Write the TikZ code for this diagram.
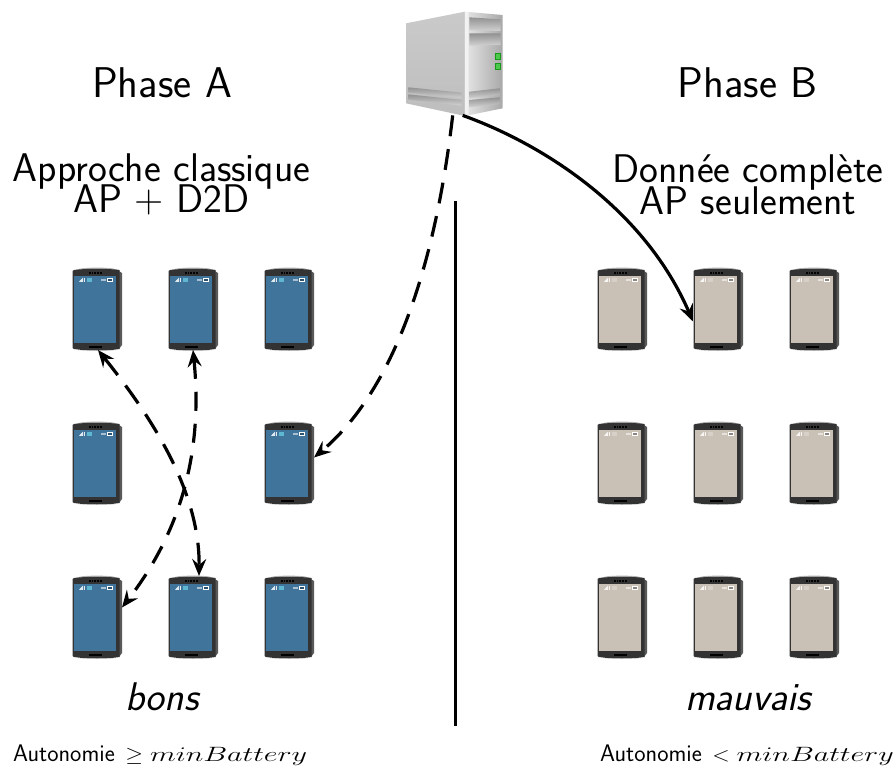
\documentclass[tikz,border=0pt]{standalone}
\usepackage{amsmath}
\usetikzlibrary{arrows.meta}
\renewcommand{\familydefault}{\sfdefault}
\definecolor{screenA}{HTML}{40749B}
\definecolor{screenB}{HTML}{C9C0B6}
\definecolor{iconA}{HTML}{5FB6D0}
\definecolor{iconB}{HTML}{D6D0C8}
\definecolor{shell}{HTML}{333333}
\definecolor{srvL}{HTML}{CACACA}
\definecolor{srvLb}{HTML}{BEBEBE}
\definecolor{srvR}{HTML}{E6E6E6}
\definecolor{srvRb}{HTML}{A8A8A8}
\definecolor{grillD}{HTML}{929292}
\definecolor{grillL}{HTML}{D2D2D2}
\tikzset{
  x=1pt,y=-1pt,
  phonebox/.style={minimum width=50pt,minimum height=83pt,inner sep=0pt,outer sep=0pt},
  link/.style={line width=3.2pt,-{Stealth[length=17pt,width=14pt,inset=6pt]}},
  bothlink/.style={line width=3.2pt,{Stealth[length=17pt,width=14pt,inset=6pt]}-{Stealth[length=17pt,width=14pt,inset=6pt]}},
  dlink/.style={link,dash pattern=on 21pt off 13pt},
  titletext/.style={font=\fontsize{43}{43}\selectfont,inner sep=0pt,anchor=base},
  bigtext/.style={font=\fontsize{40}{31}\selectfont,align=center,inner sep=0pt},
  kindtext/.style={font=\fontsize{40}{40}\selectfont\itshape,inner sep=0pt,anchor=base},
  smalltext/.style={font=\fontsize{24}{26}\selectfont,inner sep=0pt,anchor=base west},
}
\newcommand{\mrel}[1]{{\fontsize{22}{24}\selectfont\hspace{3pt}\scalebox{1.1}[1]{$#1$}\hspace{7pt}\scalebox{1.45}[1]{$minBattery$}}}
\newcommand{\phone}[5]{% name, x, y, screen, icon
  \node[phonebox,anchor=north west] (#1) at (#2,#3) {};
  \begin{scope}[shift={(#2,#3)}]
    \fill[gray!70!black] (47,3) -- (50,5) -- (50,77) -- (47,81) -- cycle;
    \fill[gray!60] (10,0.3) .. controls (20,-0.6) and (30,-0.6) .. (40,0.3) -- (47,2) -- (47,6) -- (3,6) -- (3,2) -- cycle;
    \fill[shell] (2,2) .. controls (15,0.4) and (35,0.4) .. (47.5,2) -- (47.5,81) .. controls (35,83) and (15,83) .. (2,81) -- (0.5,80) -- (0.5,3) -- cycle;
    \fill[gray!55] (6,82) .. controls (18,83.3) and (32,83.3) .. (44,82) .. controls (32,82.6) and (18,82.6) .. (6,82) -- cycle;
    \fill[#4] (2.4,8) rectangle (44,75);
    \fill[black] (17,78.3) rectangle (29.5,80.4);
    \foreach \dx in {17,19.7,22.4,25.1,27.8} \fill[black] (\dx,3.8) rectangle ++(1.7,1.8);
    \fill[white,opacity=.85] (7,13.8) -- (11,13.8) -- (11,9.5) -- cycle;
    \fill[white,opacity=.85] (11.5,13.8) rectangle (13,9.5);
    \fill[#5] (15,9.5) rectangle (19.5,14);
    \fill[white,opacity=.55] (29,11) rectangle (34,12.5);
    \fill[white] (35,10) rectangle (41,13.6);
    \fill[#4!70!black] (36.2,11) rectangle (40,12.6);
  \end{scope}
}
\begin{document}
\begin{tikzpicture}
\useasboundingbox (0,0) rectangle (896,768);
% server
\node[inner sep=0pt,minimum width=97pt,minimum height=105pt,anchor=north west] (server) at (406,11) {};
\begin{scope}[shift={(390,0)},x=0.3333pt,y=-0.3333pt]
  \shade[top color=srvL,bottom color=srvLb] (48,70) -- (225,35) -- (225,348) -- (48,310) -- cycle;
  \shade[left color=srvR,right color=srvRb] (225,35) -- (338,45) -- (338,325) -- (225,348) -- cycle;
  \fill[white,opacity=.55] (225,35) -- (236,36) -- (236,346) -- (225,348) -- cycle;
  \foreach \a/\b/\c/\d in {55/262/215/278, 55/283/215/300} {
    \shade[top color=grillD,bottom color=grillL] (\a,\b) -- (\c,\d) -- (\c,\d+17) -- (\a,\b+16) -- cycle;
  }
  \shade[top color=grillD,bottom color=grillL] (238,52) -- (332,58) -- (332,93) -- (238,90) -- cycle;
  \shade[top color=grillD,bottom color=grillL] (238,100) -- (332,100) -- (332,135) -- (238,137) -- cycle;
  \shade[top color=grillD,bottom color=grillL] (238,275) -- (330,265) -- (330,285) -- (238,295) -- cycle;
  \shade[top color=grillD,bottom color=grillL] (238,300) -- (330,292) -- (330,312) -- (238,322) -- cycle;
  \fill[green!55!black!90] (316,160) rectangle (333,179);
  \fill[green!70!black!70] (319,163) rectangle (330,176);
  \fill[green!55!black!90] (316,190) rectangle (333,209);
  \fill[green!70!black!70] (319,193) rectangle (330,206);
\end{scope}
% phones A
\phone{a1}{72}{268}{screenA}{iconA}\phone{a2}{168}{268}{screenA}{iconA}\phone{a3}{264}{268}{screenA}{iconA}
\phone{a4}{72}{422}{screenA}{iconA}\phone{a6}{264}{422}{screenA}{iconA}
\phone{a7}{72}{576}{screenA}{iconA}\phone{a8}{168}{576}{screenA}{iconA}\phone{a9}{264}{576}{screenA}{iconA}
% phones B
\phone{b1}{597}{268}{screenB}{iconB}\phone{b2}{693}{268}{screenB}{iconB}\phone{b3}{789}{268}{screenB}{iconB}
\phone{b4}{597}{422}{screenB}{iconB}\phone{b5}{693}{422}{screenB}{iconB}\phone{b6}{789}{422}{screenB}{iconB}
\phone{b7}{597}{576}{screenB}{iconB}\phone{b8}{693}{576}{screenB}{iconB}\phone{b9}{789}{576}{screenB}{iconB}
% texts
\node[titletext] (pa) at (162,97) {Phase A};
\node[titletext] (pb) at (747.5,97) {Phase B};
\node[bigtext] (ta) at (161.5,184.5) {Approche classique\\[-5pt]AP + D2D};
\node[bigtext] (tb) at (748,184.5) {Donn\'ee compl\`ete\\[-5pt]AP seulement};
\node[kindtext] (bons) at (162,710) {bons};
\node[kindtext] (mauv) at (748,710) {mauvais};
\node[smalltext] (aa) at (13,761.5) {Autonomie \mrel{\geq}};
\node[smalltext] (ab) at (600,761.5) {Autonomie \mrel{<}};
% divider
\coordinate (dtop) at (455,201);
\coordinate (dbot) at (455,726);
\draw[line width=3pt] (dtop) -- (dbot);
% connectors
\draw[dlink] ([xshift=-2pt,yshift=1pt]server.south) .. controls (437,250) and (400,385) .. ([yshift=6pt]a6.east);
\draw[link] ([xshift=8pt,yshift=1pt]server.south) .. controls (545,145) and (645,210) .. ([yshift=-12pt]b2.west);
\draw[bothlink,dash pattern=on 22pt off 13pt] ([xshift=1pt,yshift=1pt]a1.south) .. controls (150,415) and (200,490) .. ([xshift=6pt]a8.north);
\draw[bothlink,dash pattern=on 19pt off 13pt] ([yshift=1pt]a2.south) .. controls (203,450) and (182,530) .. ([yshift=10pt]a7.east);
\end{tikzpicture}
\end{document}
